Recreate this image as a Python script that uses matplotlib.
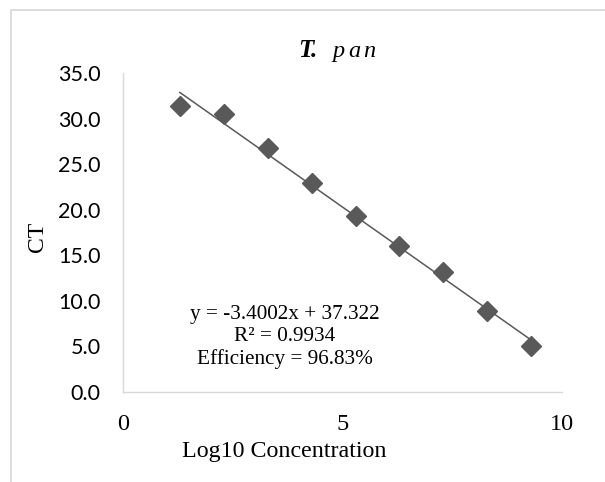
import matplotlib.pyplot as plt
from matplotlib.lines import Line2D

# data
log_conc = [1.30, 2.30, 3.30, 4.30, 5.30, 6.30, 7.30, 8.30, 9.30]
ct = [31.4, 30.5, 26.8, 22.9, 19.3, 16.0, 13.2, 8.9, 5.0]
slope = -3.4002
intercept = 37.322
r2 = 0.9934
efficiency = 96.83

y_ticks = [0, 5, 10, 15, 20, 25, 30, 35]
x_ticks = [0, 5, 10]

W, H = 605, 482
SERIF = "Liberation Serif"
GRAY = "#595959"
LIGHT = "#d9d9d9"


def fx(x):
    return x / W


def fy(y):
    return 1 - y / H


def main():
    fig = plt.figure(figsize=(W / 100, H / 100), dpi=100)

    # outer chart frame (only top and left edges show in the reference)
    fig.lines.append(Line2D([fx(11), fx(11), 1.0], [0.0, fy(10), fy(10)],
                            transform=fig.transFigure, color=LIGHT, linewidth=1.3))

    ax = fig.add_axes([fx(122.7), fy(392), fx(562) - fx(122.7), fy(73.3) - fy(392)])

    # trend line over the data range
    x0, x1 = log_conc[0], log_conc[-1]
    ax.plot([x0, x1], [slope * x0 + intercept, slope * x1 + intercept],
            color=GRAY, linewidth=1.1, zorder=2)
    ax.plot(log_conc, ct, linestyle="none", marker="D", markersize=10,
            color=GRAY, zorder=3)

    ax.set_xlim(0, 10)
    ax.set_ylim(0, 35)
    ax.set_xticks(x_ticks)
    ax.set_yticks(y_ticks)
    ax.set_yticklabels([f"{v:.1f}" for v in y_ticks], family="Lato", fontsize=15.5)
    ax.set_xticklabels([str(v) for v in x_ticks], family=SERIF, fontsize=17.5)
    ax.tick_params(axis="both", length=0)
    ax.tick_params(axis="y", pad=16)
    ax.tick_params(axis="x", pad=16)

    for side in ["top", "right"]:
        ax.spines[side].set_visible(False)
    for side in ["left", "bottom"]:
        ax.spines[side].set_color(LIGHT)
        ax.spines[side].set_linewidth(1.0)

    # axis titles
    fig.text(fx(37.5), fy(237), "CT", rotation=90, ha="center", va="center",
             family=SERIF, fontsize=17)
    fig.text(fx(284), fy(452), "Log10 Concentration", ha="center", va="center",
             family=SERIF, fontsize=17.3)

    # chart title: "T." bold italic, "p a n" italic, spaced letters
    fig.text(fx(298), fy(57.3), "T.", ha="left", va="baseline", family=SERIF,
             fontsize=18, fontweight="bold", fontstyle="italic")
    for xp, ch in zip([332, 348.5, 363], "pan"):
        fig.text(fx(xp), fy(57.3), ch, ha="left", va="baseline", family=SERIF,
                 fontsize=17.5, fontstyle="italic")

    # trend line label
    label = (f"y = {slope}x + {intercept}\n"
             f"R² = {r2}\n"
             f"Efficiency = {efficiency}%")
    fig.text(fx(284.7), fy(337), label, ha="center", va="center",
             family=SERIF, fontsize=15.3, linespacing=1.23)

    fig.savefig("out.png", dpi=100)


if __name__ == "__main__":
    main()
